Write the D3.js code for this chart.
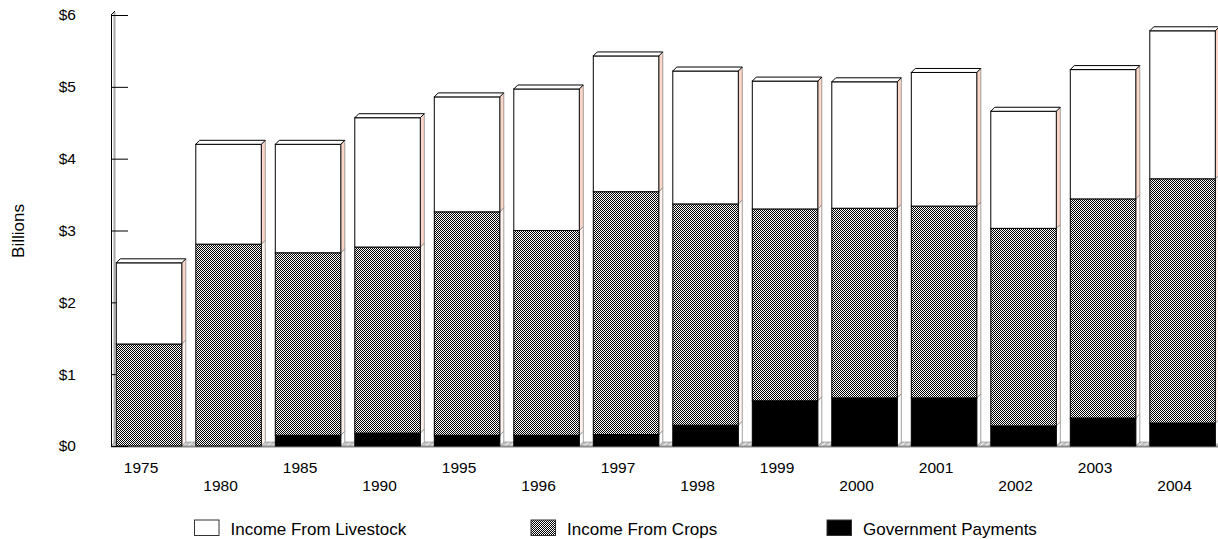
<!DOCTYPE html>
<html>
<head>
<meta charset="utf-8">
<script src="https://cdn.jsdelivr.net/npm/d3@7"></script>
<style>
  body { margin: 0; background: #fff; }
  text { font-family: "Liberation Sans", Arial, sans-serif; fill: #000; }
</style>
</head>
<body>
<div class="chart"></div>
<script>
var width = 1218;
var height = 539;
var depth = 4; // fake 3d offset

// data (billions of dollars)
var years = ["1975", "1980", "1985", "1990", "1995", "1996", "1997", "1998", "1999", "2000", "2001", "2002", "2003", "2004"];
var govPayments = [0, 0, 0.15, 0.18, 0.15, 0.15, 0.16, 0.29, 0.63, 0.67, 0.67, 0.28, 0.39, 0.32];
var cropIncome = [1.42, 2.81, 2.54, 2.59, 3.11, 2.85, 3.38, 3.08, 2.67, 2.64, 2.67, 2.75, 3.05, 3.40];
var livestockIncome = [1.13, 1.39, 1.51, 1.80, 1.60, 1.97, 1.89, 1.85, 1.78, 1.76, 1.86, 1.63, 1.80, 2.06];
var yTicks = [0, 1, 2, 3, 4, 5, 6];
var seriesNames = ["Income From Livestock", "Income From Crops", "Government Payments"];

var rows = years.map(function(y, i) {
    return { year: y, gov: govPayments[i], crops: cropIncome[i], livestock: livestockIncome[i] };
});

var svg = d3.select(".chart")
    .append("svg")
    .attr("width", width)
    .attr("height", height);

svg.append("rect").attr("width", width).attr("height", height).attr("fill", "#fff");

var defs = svg.append("defs");
// checker pattern for crops
var checker = defs.append("pattern")
    .attr("id", "checker")
    .attr("patternUnits", "userSpaceOnUse")
    .attr("width", 2).attr("height", 2);
checker.append("rect").attr("width", 2).attr("height", 2).attr("fill", "#fff");
checker.append("rect").attr("width", 1).attr("height", 1).attr("fill", "#000");
checker.append("rect").attr("x", 1).attr("y", 1).attr("width", 1).attr("height", 1).attr("fill", "#000");

// hatch for the floor
var hatch = defs.append("pattern")
    .attr("id", "hatch")
    .attr("patternUnits", "userSpaceOnUse")
    .attr("width", 4).attr("height", 4)
    .attr("patternTransform", "rotate(45)");
hatch.append("rect").attr("width", 4).attr("height", 4).attr("fill", "#c4c4c4");
hatch.append("line").attr("x1", 0).attr("y1", 0).attr("x2", 0).attr("y2", 4)
    .attr("stroke", "#fff").attr("stroke-width", 1.5);

var x = d3.scaleBand()
    .domain(years)
    .range([109.3, 1222.3])
    .paddingInner(0.176)
    .paddingOuter(0.088);

var y = d3.scaleLinear()
    .domain([0, 6])
    .range([446, 15]);

var axisX = 111;

// left wall
svg.append("path")
    .attr("d", "M" + axisX + "," + y(0) + "L" + axisX + "," + y(6) + "L" + (axisX + depth) + "," + (y(6) - depth) + "L" + (axisX + depth) + "," + (y(0) - depth) + "Z")
    .attr("fill", "#fff");
svg.append("line")
    .attr("x1", axisX + 3.5).attr("x2", axisX + 3.5)
    .attr("y1", y(6) - 3).attr("y2", y(0))
    .attr("stroke", "#a8a8a8").attr("stroke-width", 2);
svg.append("line")
    .attr("x1", axisX).attr("y1", y(6))
    .attr("x2", axisX + depth).attr("y2", y(6) - depth)
    .attr("stroke", "#000").attr("stroke-width", 1);

// floor
svg.append("path")
    .attr("d", "M" + axisX + "," + y(0) + "L" + width + "," + y(0) + "L" + (width + depth) + "," + (y(0) - depth) + "L" + (axisX + depth) + "," + (y(0) - depth) + "Z")
    .attr("fill", "url(#hatch)")
    .attr("stroke", "#808080").attr("stroke-width", 0.6);
svg.append("line")
    .attr("x1", axisX).attr("x2", width)
    .attr("y1", y(0) + 0.8).attr("y2", y(0) + 0.8)
    .attr("stroke", "#8a8a8a").attr("stroke-width", 1.6);

// y axis, ticks point into the plot
var yAxis = svg.append("g")
    .attr("transform", "translate(" + axisX + ",0)")
    .call(d3.axisLeft(y)
        .tickValues(yTicks)
        .tickSizeInner(-17)
        .tickSizeOuter(0)
        .tickPadding(35)
        .tickFormat(function(d) { return "$" + d; }));
yAxis.selectAll("text").style("font-size", "15.5px").attr("fill", "#000");
yAxis.selectAll("line").attr("stroke", "#000");
yAxis.select(".domain").attr("stroke", "#000");

svg.append("text")
    .attr("transform", "translate(24," + (y(3) + 0.5) + ") rotate(-90)")
    .attr("text-anchor", "middle")
    .style("font-size", "17px")
    .text("Billions");

// stacked bars
var stack = d3.stack().keys(["gov", "crops", "livestock"]);
var layers = stack(rows);

var frontFill = { gov: "#000", crops: "url(#checker)", livestock: "#fff" };
var sideFill = { gov: "#fff", crops: "#fff1eb", livestock: "#fcd6c8" };

var bw = x.bandwidth();

layers.forEach(function(layer) {
    var key = layer.key;
    var g = svg.append("g").attr("class", "layer-" + key);

    var seg = g.selectAll("g")
        .data(layer.filter(function(d) { return d[1] - d[0] > 0; }))
        .enter()
        .append("g");

    // side face
    seg.append("path")
        .attr("d", function(d) {
            var x1 = x(d.data.year) + bw;
            return "M" + x1 + "," + y(d[1]) + "L" + (x1 + depth) + "," + (y(d[1]) - depth) +
                "L" + (x1 + depth) + "," + (y(d[0]) - depth) + "L" + x1 + "," + y(d[0]) + "Z";
        })
        .attr("fill", sideFill[key])
        .attr("stroke", "#7a7a7a")
        .attr("stroke-width", 0.7);

    // front face
    seg.append("rect")
        .attr("x", function(d) { return x(d.data.year); })
        .attr("y", function(d) { return y(d[1]); })
        .attr("width", bw)
        .attr("height", function(d) { return y(d[0]) - y(d[1]); })
        .attr("fill", frontFill[key])
        .attr("stroke", "#000")
        .attr("stroke-width", 1);

    // top face only on the top layer
    if (key === "livestock") {
        seg.append("path")
            .attr("d", function(d) {
                var x0 = x(d.data.year), yt = y(d[1]);
                return "M" + x0 + "," + yt + "L" + (x0 + depth) + "," + (yt - depth) +
                    "L" + (x0 + bw + depth) + "," + (yt - depth) + "L" + (x0 + bw) + "," + yt + "Z";
            })
            .attr("fill", "#fff")
            .attr("stroke", "#000")
            .attr("stroke-width", 1);
    }
});

// category labels, staggered in two rows
svg.append("g")
    .selectAll("text")
    .data(years)
    .enter()
    .append("text")
    .attr("x", function(d) { return x(d) + bw / 2 - 8; })
    .attr("y", function(d, i) { return i % 2 === 0 ? 473 : 491; })
    .attr("text-anchor", "middle")
    .style("font-size", "15.5px")
    .text(function(d) { return d; });

// legend
var legendX = [194.5, 531, 827];
var legendFill = ["#fff", "url(#checker)", "#000"];
var legend = svg.append("g")
    .selectAll("g")
    .data(seriesNames)
    .enter()
    .append("g")
    .attr("transform", function(d, i) { return "translate(" + legendX[i] + ",520)"; });

legend.append("rect")
    .attr("width", 24.5)
    .attr("height", 15.5)
    .attr("fill", function(d, i) { return legendFill[i]; })
    .attr("stroke", "#333")
    .attr("stroke-width", 1);

legend.append("text")
    .attr("x", 36)
    .attr("y", 14.5)
    .style("font-size", "17px")
    .text(function(d) { return d; });
</script>
</body>
</html>
